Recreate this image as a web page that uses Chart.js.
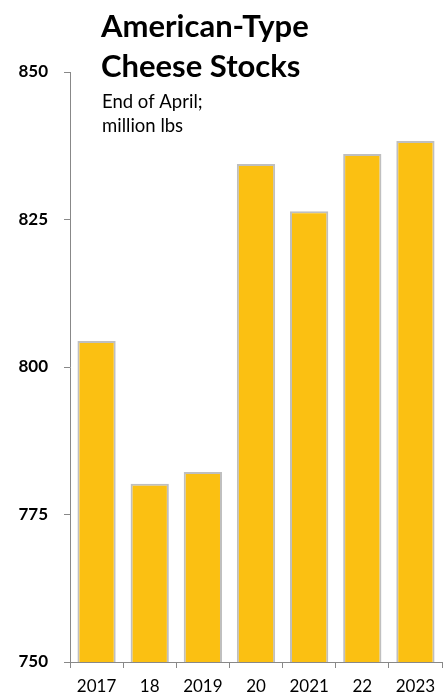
<!DOCTYPE html>
<html>
<head>
<meta charset="utf-8">
<script src="https://cdn.jsdelivr.net/npm/chart.js@4"></script>
<style>
  html, body { margin: 0; padding: 0; background: #fff; }
  #wrap { width: 448px; height: 696px; position: relative; }
</style>
</head>
<body>
<div id="wrap"><canvas id="chart" width="448" height="696"></canvas></div>
<script>
// american-type cheese stocks, end of april

const years = ["2017", "18", "2019", "20", "2021", "22", "2023"];
const stocks = [804.4, 780.2, 782.2, 834.4, 826.4, 836.1, 838.3];
const yTicks = [750, 775, 800, 825, 850];

const titleLines = ["American-Type", "Cheese Stocks"];
const subLines = ["End of April;", "million lbs"];

// title block drawn on top of the chart area
const titlePlugin = {
  id: "titleBlock",
  afterDraw(chart) {
    const ctx = chart.ctx;
    ctx.save();
    ctx.fillStyle = "#000";
    ctx.textAlign = "left";
    ctx.textBaseline = "alphabetic";
    ctx.font = "bold 31px Lato";
    ctx.fillText(titleLines[0], 101, 37);
    ctx.fillText(titleLines[1], 101, 77);
    ctx.font = "18.5px Lato";
    ctx.fillText(subLines[0], 102, 108);
    ctx.fillText(subLines[1], 102, 132);
    ctx.restore();
  }
};

new Chart(document.getElementById("chart"), {
  type: "bar",
  data: {
    labels: years,
    datasets: [{
      data: stocks,
      backgroundColor: "#fbc012",
      borderColor: "#bfbfbf",
      borderWidth: 2,
      borderSkipped: "start",
      categoryPercentage: 1,
      barPercentage: 0.72
    }]
  },
  options: {
    responsive: false,
    animation: false,
    layout: { padding: { top: 72, right: 6, left: 0, bottom: 0 } },
    plugins: { legend: { display: false }, tooltip: { enabled: false } },
    scales: {
      x: {
        afterFit: s => { s.height = 34; },
        grid: { offset: true, drawOnChartArea: false, drawTicks: true, tickLength: 6, color: "#888" },
        border: { display: true, color: "#888", width: 1 },
        ticks: { padding: 8, color: "#000", font: { family: "Lato", size: 17 }, maxRotation: 0, autoSkip: false }
      },
      y: {
        min: 750,
        max: 850,
        afterFit: s => { s.width = 70; },
        afterBuildTicks: s => { s.ticks = yTicks.map(v => ({ value: v })); },
        grid: { drawOnChartArea: false, drawTicks: true, tickLength: 6, color: "#888" },
        border: { display: true, color: "#888", width: 1 },
        ticks: { padding: 16, color: "#000", font: { family: "Lato", size: 17, weight: "bold" } }
      }
    }
  },
  plugins: [titlePlugin]
});
</script>
</body>
</html>
